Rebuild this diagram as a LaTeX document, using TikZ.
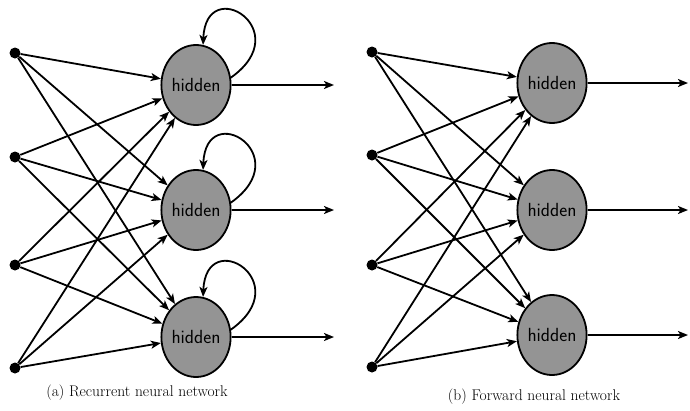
\documentclass[tikz,border=0pt]{standalone}
\usepackage{amsmath, amssymb}
\usepackage{tikz}
\usetikzlibrary{calc,shapes, arrows, arrows.meta}

\tikzset{
  unit/.style={circle,fill=black,inner sep=0pt,minimum size=11pt},
  hid/.style={ellipse,draw=black,line width=1.8pt,fill=black!42,
    minimum width=66pt,minimum height=80pt,inner sep=0pt,
    font=\fontsize{19}{22}\selectfont\sffamily},
  conn/.style={-{Stealth[length=10pt,width=8pt,inset=2.5pt]},line width=1.8pt},
  capt/.style={font=\fontsize{15.5}{18}\selectfont}
}

\begin{document}
\begin{tikzpicture}[x=1pt,y=-1pt]
    \useasboundingbox (0,0) rectangle (690,410);
    % (a) recurrent net
    \foreach \i/\y in {1/53,2/157,3/265,4/368}
        \node[unit] (a\i) at (15,\y) {};
    \foreach \j/\y in {1/85,2/210,3/337}
        \node[hid] (ah\j) at (196,\y) {hidden};
    \foreach \i in {1,...,4}
        \foreach \j in {1,2,3}
            \draw[conn] (a\i) -- (ah\j);
    \foreach \j/\y in {1/85,2/210,3/337}{
        \coordinate (ao\j) at (334,\y);
        \draw[conn] (ah\j) -- (ao\j);
        \draw[conn] (ah\j.12) .. controls ($(ah\j)+(102,-55)$) and ($(ah\j)+(10,-112)$) .. (ah\j.80);
    }
    \node[capt] (capa) at (137,393) {(a) Recurrent neural network};
    % (b) forward net
    \foreach \i/\y in {1/52,2/155,3/265,4/367}
        \node[unit] (b\i) at (372,\y) {};
    \foreach \j/\y in {1/83,2/210,3/335}
        \node[hid] (bh\j) at (552,\y) {hidden};
    \foreach \i in {1,...,4}
        \foreach \j in {1,2,3}
            \draw[conn] (b\i) -- (bh\j);
    \foreach \j/\y in {1/83,2/210,3/335}{
        \coordinate (bo\j) at (688,\y);
        \draw[conn] (bh\j) -- (bo\j);
    }
    \node[capt] (capb) at (534,397) {(b) Forward neural network};
\end{tikzpicture}
\end{document}
